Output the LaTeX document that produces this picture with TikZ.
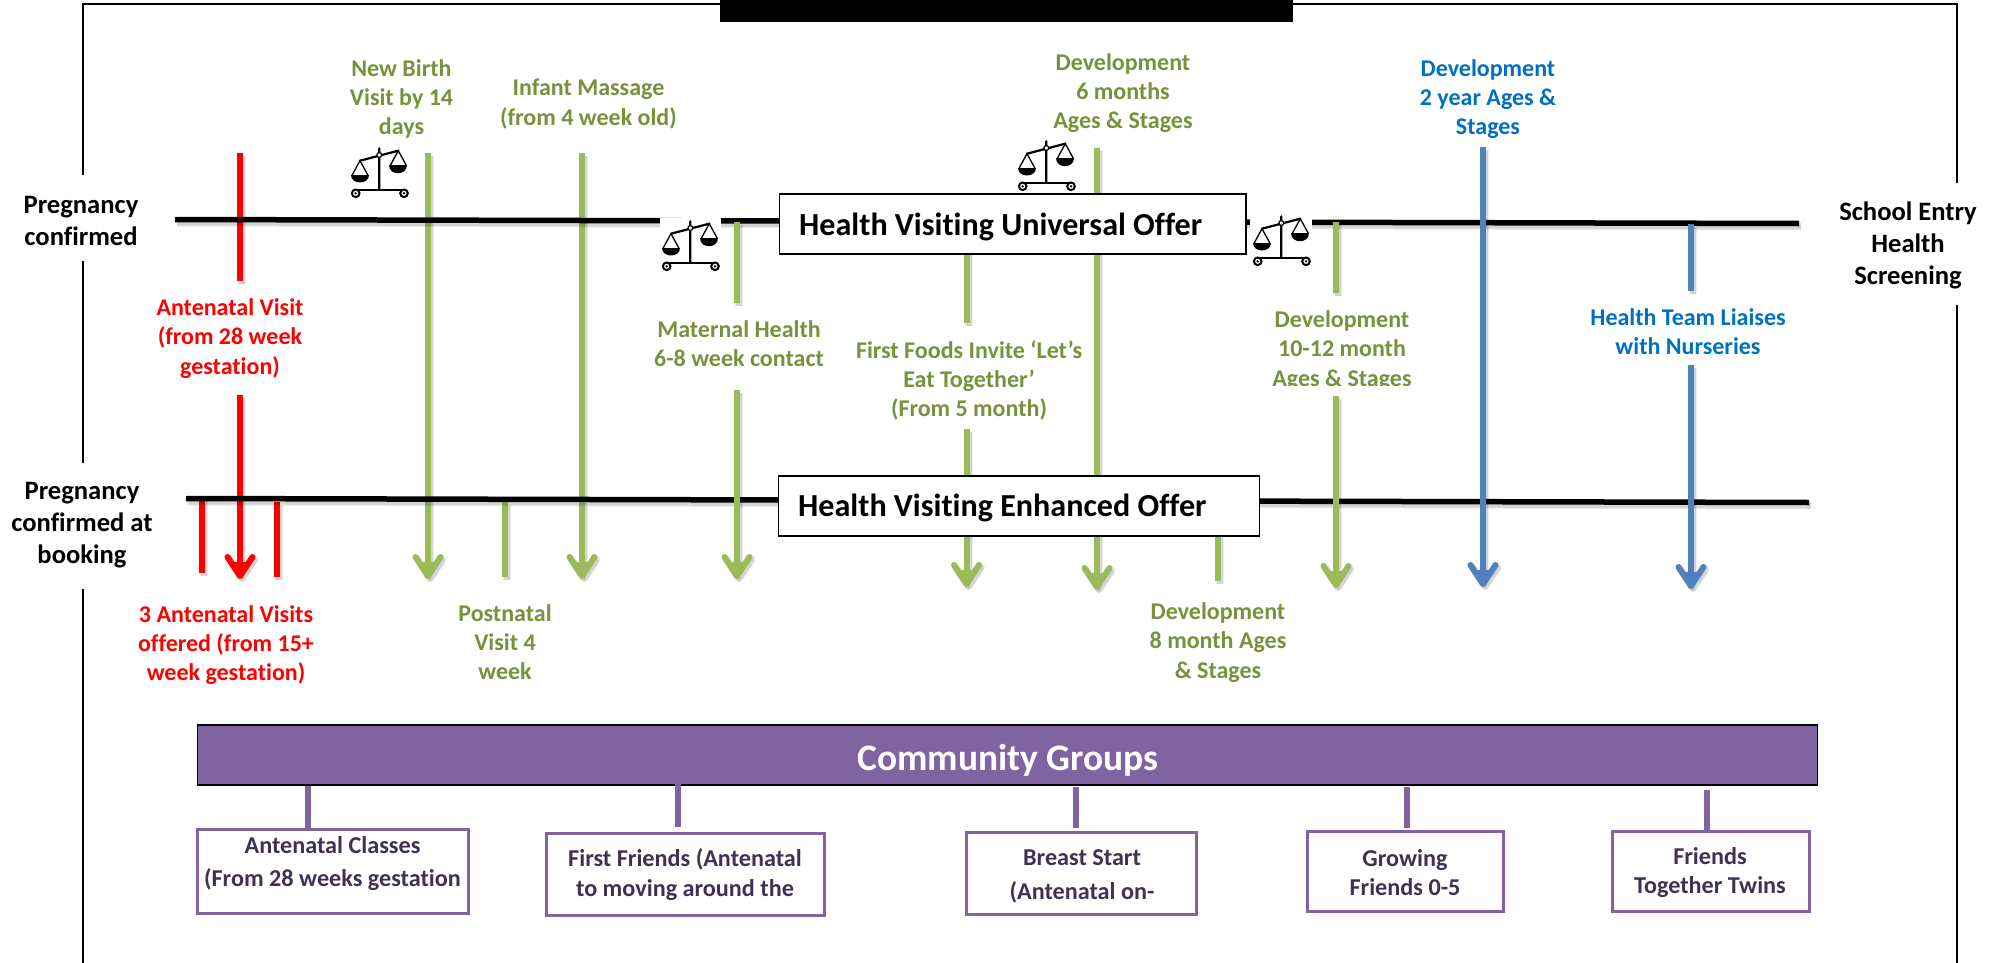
\documentclass[tikz,border=0pt]{standalone}
\usepackage{fontspec}
\setmainfont{Carlito}[Ligatures=NoCommon]
\usetikzlibrary{arrows.meta}
\definecolor{gline}{HTML}{9BBB59}
\definecolor{gtext}{HTML}{76923C}
\definecolor{bline}{HTML}{4F81BD}
\definecolor{btext}{HTML}{0070C0}
\definecolor{pur}{HTML}{8064A2}
\definecolor{dpur}{HTML}{403152}
\tikzset{
  shad/.style={preaction={draw=black,opacity=.07,line width=8pt,transform canvas={xshift=2pt,yshift=-3pt}},
               preaction={draw=black,opacity=.10,line width=6pt,transform canvas={xshift=2pt,yshift=-3pt}}},
  tipd/.style={-{Straight Barb[length=19pt 0 0,width=25pt 0 0,round,sep=-17pt 0 0]Stealth[length=17pt 0 0,width=10pt 0 0,inset=0pt 0 0]}},
  vred/.style={draw=red,line width=6pt,shad},
  vgreen/.style={draw=gline,line width=6pt,shad},
  vblue/.style={draw=bline,line width=6pt,shad},
  vpur/.style={draw=pur,line width=6pt},
  hblack/.style={draw=black,line width=5.5pt,shad},
  frameline/.style={draw=black,line width=2pt},
  lab/.style={font=\fontsize{24}{29.2}\selectfont\bfseries,align=center,inner sep=0pt},
  glab/.style={lab,text=gtext},
  rlab/.style={lab,text=red},
  blab/.style={lab,text=btext},
  klab/.style={font=\fontsize{26.6}{32}\selectfont\bfseries,align=center,inner sep=0pt,text=black},
  offerbox/.style={draw=black,line width=1.5pt,fill=white,inner sep=0pt},
  offertext/.style={font=\fontsize{32.1}{38}\selectfont\bfseries,inner sep=0pt,anchor=west},
  groupbox/.style={draw=pur,line width=3pt,fill=white,inner sep=0pt},
  grouptext/.style={font=\fontsize{24.2}{#1}\selectfont\bfseries,text=dpur,align=center,inner sep=0pt},
  scaleicon/.pic={
    \draw[black,line width=2.2pt,line cap=round] (10,11.7)--(48.3,1.7) (29.3,-0.7)--(29.3,41);
    \draw[black,line width=2.6pt,line cap=round] (6.7,41)--(51.7,41);
    \draw[black,line width=1.3pt] (2.2,26)--(10,11.7)--(17.8,26) (40.5,16)--(48.3,1.7)--(56.1,16);
    \fill[black] (1,26) -- (19,26) .. controls (19,36) and (1,36) .. (1,26) -- cycle;
    \fill[black] (39.3,16) -- (57.3,16) .. controls (57.3,27) and (39.3,27) .. (39.3,16) -- cycle;
    \draw[black,fill=white,line width=1.2pt] (29.3,6) circle[radius=2.4];
    \foreach \cx in {5.7,54}{
      \draw[black,line width=2pt] (\cx,44.3) circle[radius=3.8];
      \fill[black] (\cx,44.3) circle[radius=1.3];
    }
  }
}
\begin{document}
\begin{tikzpicture}[x=1pt,y=-1pt]
\useasboundingbox (0,0) rectangle (2001,963);
\fill[white] (0,0) rectangle (2001,963);

% frame
\coordinate (fTL) at (83,4); \coordinate (fTR) at (1957,4);
\coordinate (fL1) at (83,175); \coordinate (fL2) at (83,261); \coordinate (fL3) at (83,463);
\coordinate (fL4) at (83,589); \coordinate (fL5) at (83,963);
\coordinate (fR1) at (1957,183); \coordinate (fR2) at (1957,305); \coordinate (fR3) at (1957,963);
\draw[frameline] (fL1)--(fTL)--(fTR)--(fR1);
\draw[frameline] (fR2)--(fR3);
\draw[frameline] (fL2)--(fL3);
\draw[frameline] (fL4)--(fL5);
\node[fill=black,minimum width=573pt,minimum height=22pt,inner sep=0pt,anchor=north west] (topbar) at (720,0) {};

% named ends
\coordinate (u1) at (175,219.5); \coordinate (u2) at (1799,223.5);
\coordinate (e1) at (186,498.5); \coordinate (e2) at (1809,502.5);

% verticals beneath the black lines
\coordinate (a1) at (240,153); \coordinate (a2) at (240,281); \coordinate (a3) at (240,395); \coordinate (a4) at (240,579);
\draw[vred] (a1)--(a2);
\draw[vred,tipd] (a3)--(a4);
\coordinate (r1) at (202,498); \coordinate (r2) at (202,573);
\coordinate (r3) at (277,502); \coordinate (r4) at (277,577);
\draw[vred] (r1)--(r2);
\draw[vred] (r3)--(r4);
\coordinate (n1) at (428,153); \coordinate (n2) at (428,579);
\draw[vgreen,tipd] (n1)--(n2);
\coordinate (i1) at (582,153); \coordinate (i2) at (582,579);
\draw[vgreen,tipd] (i1)--(i2);
\coordinate (p1) at (505,502); \coordinate (p2) at (505,577);
\draw[vgreen] (p1)--(p2);

% black timelines
\draw[hblack] (u1)--(u2);
\draw[hblack] (e1)--(e2);

% verticals above the black lines
\coordinate (m1) at (737,222); \coordinate (m2) at (737,303); \coordinate (m3) at (737,390); \coordinate (m4) at (737,579);
\draw[vgreen] (m1)--(m2);
\draw[vgreen,tipd] (m3)--(m4);
\coordinate (f1) at (966.5,200); \coordinate (f2) at (966.5,323); \coordinate (f3) at (966.5,429); \coordinate (f4) at (966.5,587);
\draw[vgreen] (f1)--(f2);
\draw[vgreen,tipd] (f3)--(f4);
\coordinate (s1) at (1097,148); \coordinate (s2) at (1097,590);
\draw[vgreen,tipd] (s1)--(s2);
\coordinate (d1) at (1218,510); \coordinate (d2) at (1218,581);
\draw[vgreen] (d1)--(d2);
\coordinate (t1) at (1336,222); \coordinate (t2) at (1336,293); \coordinate (t3) at (1336,396); \coordinate (t4) at (1336,588);
\draw[vgreen] (t1)--(t2);
\draw[vgreen,tipd] (t3)--(t4);
\coordinate (y1) at (1483,147); \coordinate (y2) at (1483,587);
\draw[vblue,tipd] (y1)--(y2);
\coordinate (h1) at (1691,224); \coordinate (h2) at (1691,291); \coordinate (h3) at (1691,365); \coordinate (h4) at (1691,589);
\draw[vblue] (h1)--(h2);
\draw[vblue,tipd] (h3)--(h4);

% offer boxes
\node[offerbox,minimum width=466.5pt,minimum height=60pt,anchor=north west] (uni) at (778.5,193) {};
\node[offertext] (unit) at (799,227) {Health Visiting Universal Offer};
\node[offerbox,minimum width=481pt,minimum height=60pt,anchor=north west] (enh) at (777.5,475) {};
\node[offertext] (enht) at (798,508) {Health Visiting Enhanced Offer};

% scale icons
\node[fill=white,minimum width=61pt,minimum height=54pt,inner sep=0pt,anchor=north west] (wa) at (660,218) {};
\node[fill=white,minimum width=62pt,minimum height=52pt,inner sep=0pt,anchor=north west] (wb) at (1250,216) {};
\pic at (350,149) {scaleicon};
\pic at (661,222) {scaleicon};
\pic at (1017,142) {scaleicon};
\pic at (1252,217) {scaleicon};

% black labels
\node[klab] (l1) at (81,221) {Pregnancy\\confirmed};
\node[klab] (l2) at (82,525) {Pregnancy\\confirmed at\\booking};
\node[klab] (l3) at (1908,245.5) {School Entry\\Health\\Screening};

% timeline labels
\node[rlab] (t01) at (230,338.5) {Antenatal Visit\\(from 28 week\\gestation)};
\node[rlab] (t02) at (226,645) {3 Antenatal Visits\\offered (from 15+\\week gestation)};
\node[glab] (t03) at (401.5,99) {New Birth\\Visit by 14\\days};
\node[glab] (t04) at (588.5,104) {Infant Massage\\(from 4 week old)};
\node[glab] (t05) at (739,343.5) {Maternal Health\\6-8 week contact};
\node[glab] (t06) at (969,380.5) {First Foods Invite ‘Let’s\\Eat Together’\\(From 5 month)};
\node[glab] (t07) at (1123,93) {Development\\6 months\\Ages \& Stages};
\begin{scope}
\clip (1250,300) rectangle (1430,385);
\node[glab] (t08) at (1342,350.5) {Development\\10-12 month\\Ages \& Stages};
\end{scope}
\node[blab] (t09) at (1488,99) {Development\\2 year Ages \&\\Stages};
\node[blab] (t10) at (1688,331.5) {Health Team Liaises\\with Nurseries};
\node[glab] (t11) at (505,642) {Postnatal\\Visit 4\\week};
\node[glab] (t12) at (1218,642.5) {Development\\8 month Ages\\\& Stages};

% community groups
\node[draw=black,line width=1.5pt,fill=pur,minimum width=1620pt,minimum height=60pt,inner sep=0pt,anchor=north west] (cg) at (196.5,724) {};
\node[font=\fontsize{37.4}{40}\selectfont\bfseries,text=white,inner sep=0pt] (cgt) at (1008,760) {Community Groups};

\node[groupbox,minimum width=271pt,minimum height=84pt,anchor=north west] (g1) at (196,827.5) {};
\node[groupbox,minimum width=278pt,minimum height=82pt,anchor=north west] (g2) at (545,832) {};
\node[groupbox,minimum width=230pt,minimum height=82pt,anchor=north west] (g3) at (965,831) {};
\node[groupbox,minimum width=196pt,minimum height=80pt,anchor=north west] (g4) at (1306,830) {};
\node[groupbox,minimum width=197pt,minimum height=80pt,anchor=north west] (g5) at (1610.5,830) {};
\node[grouptext=33] (g1t) at (332.5,863.5) {Antenatal Classes\\(From 28 weeks gestation};
\node[grouptext=30] (g2t) at (685,874.5) {First Friends (Antenatal\\to moving around the};
\node[grouptext=34] (g3t) at (1082,876) {Breast Start\\(Antenatal on-};
\node[grouptext=29] (g4t) at (1405,872.5) {Growing\\Friends 0-5};
\node[grouptext=29] (g5t) at (1710,873) {Friends\\Together Twins};

\coordinate (c1) at (308,786); \coordinate (c2) at (678,784); \coordinate (c3) at (1076,787);
\coordinate (c4) at (1407,787); \coordinate (c5) at (1707,790);
\draw[vpur] (c1)--(c1|-g1.north);
\draw[vpur] (c2)--(678,827);
\draw[vpur] (c3)--(1076,828);
\draw[vpur] (c4)--(1407,828);
\draw[vpur] (c5)--(c5|-g5.north);
\end{tikzpicture}
\end{document}
